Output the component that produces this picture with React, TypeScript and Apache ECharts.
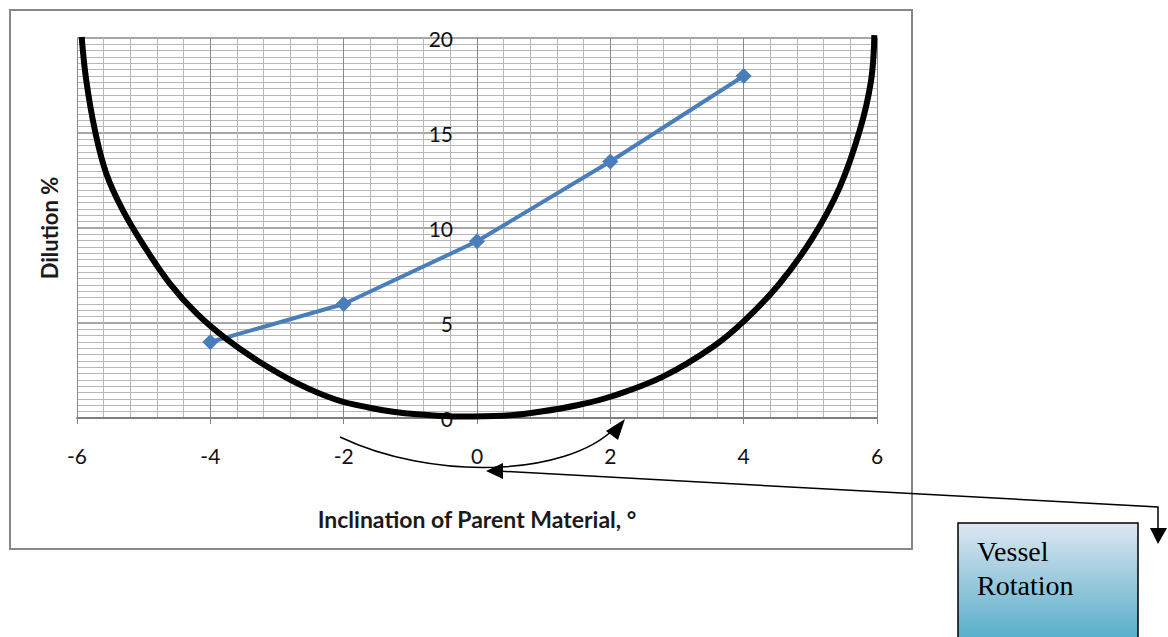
import React, { useEffect, useRef } from "react";
import * as echarts from "echarts";

// Dilution vs inclination (blue series)
const inclination = [-4, -2, 0, 2, 4];
const dilution = [4.0, 6.0, 9.3, 13.5, 18.0];

// Vessel outline (black U curve) in chart coordinates
const vesselX = [-5.93, -5.86, -5.73, -5.56, -5.31, -4.98, -4.61, -4.21, -3.76, -3.31, -2.71, -2.11, -1.61, -1.26, -0.9, -0.25, 0.4, 0.94, 1.54, 2.01, 2.79, 3.54, 4.02, 4.54, 5.04, 5.44, 5.74, 5.91, 5.96];
const vesselY = [20.05, 17.74, 15.12, 12.86, 10.92, 8.98, 7.09, 5.52, 4.16, 3.06, 1.85, 0.96, 0.54, 0.33, 0.2, 0.08, 0.12, 0.33, 0.7, 1.13, 2.18, 3.75, 5.15, 7.08, 9.52, 12.14, 15.12, 17.74, 20.15];

const xTicks = { min: -6, max: 6, interval: 2 };
const yTicks = { min: 0, max: 20, interval: 5 };

const xTitle = "Inclination of Parent Material, °";
const yTitle = "Dilution %";
const boxLines = ["Vessel", "Rotation"];

export default function App() {
  const ref = useRef<HTMLDivElement>(null);
  useEffect(() => {
    if (!ref.current) return;
    const chart = echarts.init(ref.current, null, { renderer: "svg" });
    const font = "Lato, 'Open Sans', sans-serif";
    const serif = "'Liberation Serif', 'DejaVu Serif', serif";
    chart.setOption({
      animation: false,
      backgroundColor: "#fff",
      grid: { left: 77, right: 291, top: 38, bottom: 219, containLabel: false, outerBoundsMode: "none" },
      xAxis: {
        type: "value",
        min: xTicks.min,
        max: xTicks.max,
        interval: xTicks.interval,
        name: xTitle,
        nameLocation: "middle",
        nameGap: 89,
        nameTextStyle: { fontFamily: font, fontSize: 23, fontWeight: "bold", color: "#1a1a1a" },
        axisLine: { show: true, onZero: true, lineStyle: { color: "#7f7f7f", width: 2 } },
        axisTick: { show: true, length: 6, lineStyle: { color: "#868686" } },
        axisLabel: { margin: 27, fontFamily: font, fontSize: 21, color: "#111" },
        splitLine: { show: true, lineStyle: { color: "#8a8a8a", width: 1 } },
        minorTick: { show: false, splitNumber: 5 },
        minorSplitLine: { show: true, lineStyle: { color: "#b8b8b8", width: 1 } },
      },
      yAxis: {
        type: "value",
        position: "left",
        offset: -400,
        min: yTicks.min,
        max: yTicks.max,
        interval: yTicks.interval,
        name: yTitle,
        nameLocation: "middle",
        nameGap: 417,
        nameRotate: 90,
        nameTextStyle: { fontFamily: font, fontSize: 22, fontWeight: "bold", color: "#1a1a1a" },
        axisLine: { show: true, onZero: false, lineStyle: { color: "#868686", width: 1 } },
        axisTick: { show: false },
        axisLabel: { margin: 24, fontFamily: font, fontSize: 21, color: "#111" },
        splitLine: { show: true, lineStyle: { color: "#8a8a8a", width: 1.5 } },
        minorTick: { show: false, splitNumber: 15 },
        minorSplitLine: { show: true, lineStyle: { color: "#b8b8b8", width: 1 } },
      },
      series: [
        {
          type: "line",
          data: inclination.map((x, i) => [x, dilution[i]]),
          symbol: "diamond",
          symbolSize: 16,
          itemStyle: { color: "#4a7ebb" },
          lineStyle: { color: "#4a7ebb", width: 4 },
          z: 3,
        },
        {
          type: "line",
          data: vesselX.map((x, i) => [x, vesselY[i]]),
          smooth: 0.4,
          showSymbol: false,
          symbol: "none",
          clip: false,
          lineStyle: { color: "#000", width: 6 },
          z: 4,
        },
      ],
      graphic: [
        {
          type: "rect",
          shape: { x: 10, y: 10, width: 902, height: 539 },
          style: { fill: "none", stroke: "#878787", lineWidth: 2 },
          z: -10,
          silent: true,
        },
        {
          type: "bezierCurve",
          shape: { x1: 340, y1: 437, cpx1: 430, cpy1: 480, cpx2: 565, cpy2: 478, x2: 615, y2: 428 },
          style: { stroke: "#000", lineWidth: 1.5, fill: "none" },
        },
        {
          type: "polygon",
          shape: { points: [[625, 419], [606, 431], [618, 440]] },
          style: { fill: "#000" },
        },
        {
          type: "polyline",
          shape: { points: [[498, 471], [1158, 507], [1158, 530]] },
          style: { stroke: "#000", lineWidth: 1.5, fill: "none" },
        },
        {
          type: "polygon",
          shape: { points: [[486, 471], [503, 463], [503, 479]] },
          style: { fill: "#000" },
        },
        {
          type: "polygon",
          shape: { points: [[1158, 544], [1150, 528], [1167, 528]] },
          style: { fill: "#000" },
        },
        {
          type: "rect",
          shape: { x: 958, y: 523, width: 180, height: 130 },
          style: {
            fill: new echarts.graphic.LinearGradient(0, 0, 0, 1, [
              { offset: 0, color: "#dde7f2" },
              { offset: 0.5, color: "#93c6da" },
              { offset: 1, color: "#46a8c5" },
            ]),
            stroke: "#000",
            lineWidth: 1.5,
          },
        },
        {
          type: "text",
          x: 977,
          y: 551,
          style: { text: boxLines[0], fontFamily: serif, fontSize: 28, fill: "#000", verticalAlign: "middle" },
        },
        {
          type: "text",
          x: 977,
          y: 585,
          style: { text: boxLines[1], fontFamily: serif, fontSize: 28, fill: "#000", verticalAlign: "middle" },
        },
      ],
    });
    return () => chart.dispose();
  }, []);
  return <div ref={ref} style={{ position: "absolute", left: 0, top: 0, width: 1168, height: 637 }} />;
}
